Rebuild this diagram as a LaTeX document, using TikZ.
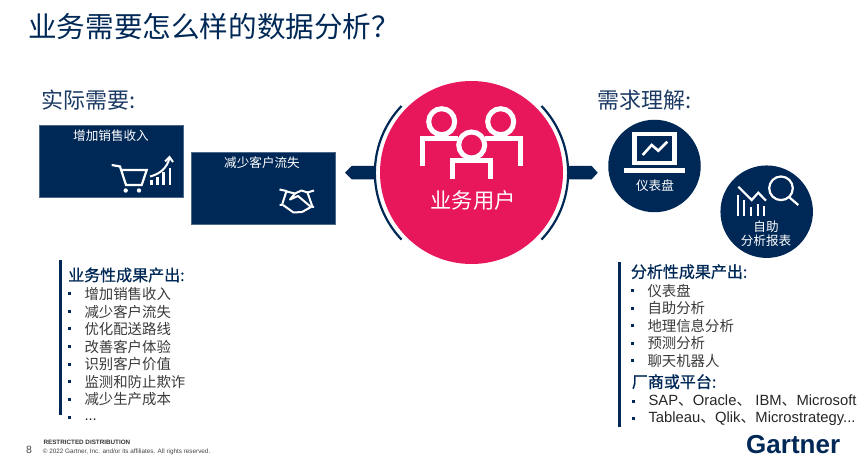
\documentclass[tikz,border=0pt]{standalone}
\usepackage{fontspec}
\setmainfont{Noto Sans CJK SC}
\newfontfamily\latinfont{Liberation Sans}
\newfontfamily\subheadfont[FakeBold=0.8]{Noto Sans CJK SC}
\definecolor{navy}{HTML}{002856}
\definecolor{slate}{HTML}{1C3A63}
\definecolor{rosered}{HTML}{E8175C}
\definecolor{itemgray}{HTML}{3A3A3A}
\definecolor{footgray}{HTML}{444444}
\newcommand{\fs}[1]{\fontsize{#1}{#1}\selectfont}

\begin{document}
\begin{tikzpicture}[x=1pt,y=-1pt,
    txt/.style={inner sep=0,anchor=west},
    heading/.style={txt,text=slate,font=\fs{22}},
    subhead/.style={txt,text=navy,font=\subheadfont\fs{16}},
    item/.style={txt,text=itemgray,font=\fs{14.4}},
    latinitem/.style={txt,text=black!85,font=\latinfont\fs{14.8}},
    tick/.style={fill=navy,inner sep=0,minimum size=3pt},
    needbox/.style={fill=navy,draw=navy!70!white,line width=.5pt,inner sep=0,anchor=north west,minimum width=144pt,minimum height=72pt},
    boxtext/.style={text=white,inner sep=0,font=\fs{12.6}},
    disc/.style={circle,fill=navy,inner sep=0,minimum size=92.5pt},
    icon/.style={draw=white,line width=#1,fill=none},
    icon/.default=2pt,
    ring/.style={draw=navy,line width=2.2pt},
    bar/.style={fill=navy}]
  \useasboundingbox (0,0) rectangle (865,470);

  \node[txt,text=navy,font=\fs{28.6}] (title) at (28,27) {业务需要怎么样的数据分析？};

  \node[heading] (need) at (41,100) {实际需要:};
  \node[needbox] (sales) at (39,125) {};
  \node[needbox] (churn) at (191,152) {};
  \node[boxtext] (salestext) at (111,135.5) {增加销售收入};
  \node[boxtext] (churntext) at (262,162.5) {减少客户流失};

  \draw[icon=2.2pt] (111.7,165) -- (120,166.5) -- (126,185) -- (141.7,185) -- (146.7,170) -- (121,170);
  \fill[white] (125.7,190.5) circle (2.2pt) (139,190.5) circle (2.2pt);
  \draw[icon=2.2pt] (151.5,185) -- (151.5,180.5) (157.5,185) -- (157.5,177) (163.5,185) -- (163.5,172) (170,185) -- (170,168);
  \draw[icon=2pt] (150,176.5) .. controls (160,174) and (167,168) .. (169.5,158);
  \draw[icon=2pt] (165,161.5) -- (169.5,157) -- (173,162);

  \draw[icon=2pt,line join=round] (279.5,189.5) -- (286.5,191) -- (282,205) -- (279.5,205);
  \draw[icon=2pt,line join=round] (314,190.5) -- (307.5,192.5) -- (312.5,207) -- (314,207);
  \draw[icon=2pt,line join=round] (286.5,191.5) -- (295,193.5) -- (301.5,190.5) -- (307.5,192.5);
  \draw[icon=2pt,line join=round] (295,193.5) -- (290,199.5) -- (298,196) -- (311,207) -- (302,212) -- (293.5,212.5) -- (283,205);

  \node[circle,fill=rosered,inner sep=0,minimum size=183pt] (user) at (471.5,172.5) {};
  \fill[bar] (345,172.7) -- (351.7,166) -- (375,166) -- (375,179.3) -- (351.7,179.3) -- cycle;
  \fill[bar] (597.7,172.7) -- (591.7,166) -- (569,166) -- (569,179.3) -- (591.7,179.3) -- cycle;
  \draw[ring] (401.5,106) arc[start angle=136.5,end angle=223.5,radius=97pt];
  \draw[ring] (541.5,106) arc[start angle=43.5,end angle=-43.5,radius=97pt];

  \draw[icon=5pt] (441.7,121.7) circle (13pt) (500.7,121.7) circle (13pt) (471.7,145) circle (13pt);
  \draw[icon=5pt] (422.3,166) -- (422.3,138.3) -- (458,138.3);
  \draw[icon=5pt] (520,166) -- (520,138.3) -- (485,138.3);
  \draw[icon=5pt] (452.7,179.3) -- (452.7,160.7) -- (490,160.7) -- (490,179.3);
  \node[text=white,inner sep=0,font=\fs{21.3}] (usertext) at (473,200) {业务用户};

  \node[heading] (understand) at (597,100) {需求理解:};
  \node[disc] (board) at (654.5,166) {};
  \node[disc] (report) at (766.7,211.7) {};
  \node[boxtext] (boardtext) at (655,186) {仪表盘};
  \node[boxtext] (reporttext1) at (766,226.5) {自助};
  \node[boxtext] (reporttext2) at (766,241) {分析报表};

  \draw[icon=4.3pt] (634.5,133.8) rectangle (674.5,163);
  \fill[white] (624.3,168.3) rectangle (685,172.7);
  \draw[icon=2.6pt] (642.7,155) -- (651.7,145) -- (658.3,150.7) -- (667.3,141.7);

  \draw[icon=2.2pt] (781,188.3) circle (11.8pt);
  \draw[icon=2.2pt] (789.3,197.3) -- (798.3,205);
  \draw[icon=2.2pt] (738.3,186.7) -- (751.7,200) -- (758.3,192.7) -- (766,200.7);
  \draw[icon=2.2pt] (738.3,215.7) -- (738.3,195) (744.3,215.7) -- (744.3,200) (751,215.7) -- (751,206.7) (757.7,215.7) -- (757.7,204) (764.3,215.7) -- (764.3,206);

  \fill[bar] (58.7,260) rectangle (61.7,415);
  \node[subhead] (bizhead) at (68,275) {业务性成果产出:};
  \node[tick] (bt1) at (69,294) {};
  \node[tick] (bt2) at (69,311.7) {};
  \node[tick] (bt3) at (69,329) {};
  \node[tick] (bt4) at (69,346.7) {};
  \node[tick] (bt5) at (69,364.3) {};
  \node[tick] (bt6) at (69,381.7) {};
  \node[tick] (bt7) at (69,399.3) {};
  \node[tick] (bt8) at (69,417) {};
  \node[item] (bi1) at (84.3,294) {增加销售收入};
  \node[item] (bi2) at (84.3,311.7) {减少客户流失};
  \node[item] (bi3) at (84.3,329) {优化配送路线};
  \node[item] (bi4) at (84.3,346.7) {改善客户体验};
  \node[item] (bi5) at (84.3,364.3) {识别客户价值};
  \node[item] (bi6) at (84.3,381.7) {监测和防止欺诈};
  \node[item] (bi7) at (84.3,399.3) {减少生产成本};
  \node[latinitem] (bi8) at (84.3,420) {...};

  \fill[bar] (618,262) rectangle (621,427);
  \node[subhead] (anahead) at (630.7,271.7) {分析性成果产出:};
  \node[tick] (at1) at (632,290.7) {};
  \node[tick] (at2) at (632,308.3) {};
  \node[tick] (at3) at (632,325.7) {};
  \node[tick] (at4) at (632,343.3) {};
  \node[tick] (at5) at (632,361) {};
  \node[item] (ai1) at (647.3,290.7) {仪表盘};
  \node[item] (ai2) at (647.3,308.3) {自助分析};
  \node[item] (ai3) at (647.3,325.7) {地理信息分析};
  \node[item] (ai4) at (647.3,343.3) {预测分析};
  \node[item] (ai5) at (647.3,361) {聊天机器人};
  \node[subhead] (venhead) at (631.7,381.7) {厂商或平台:};
  \node[tick] (vt1) at (633.3,401) {};
  \node[tick] (vt2) at (633.3,418.3) {};
  \node[latinitem] (vi1) at (648.3,401) {SAP{\rmfamily 、}Oracle{\rmfamily 、} IBM{\rmfamily 、}Microsoft};
  \node[latinitem] (vi2) at (648.3,418.3) {Tableau{\rmfamily 、}Qlik{\rmfamily 、}Microstrategy...};

  \node[txt,text=footgray,font=\latinfont\fs{10.5}] (pagenum) at (26,450) {8};
  \node[txt,text=black!80,font=\latinfont\bfseries\fs{6.3}] (restricted) at (43.3,442.7) {RESTRICTED DISTRIBUTION};
  \node[txt,text=footgray,font=\latinfont\fs{6.35}] (copyright) at (42.7,451.7) {© 2022 Gartner, Inc. and/or its affiliates. All rights reserved.};
  \node[txt,text=navy,font=\latinfont\bfseries\fs{26}] (gartner) at (746,445) {Gartner};
\end{tikzpicture}
\end{document}
